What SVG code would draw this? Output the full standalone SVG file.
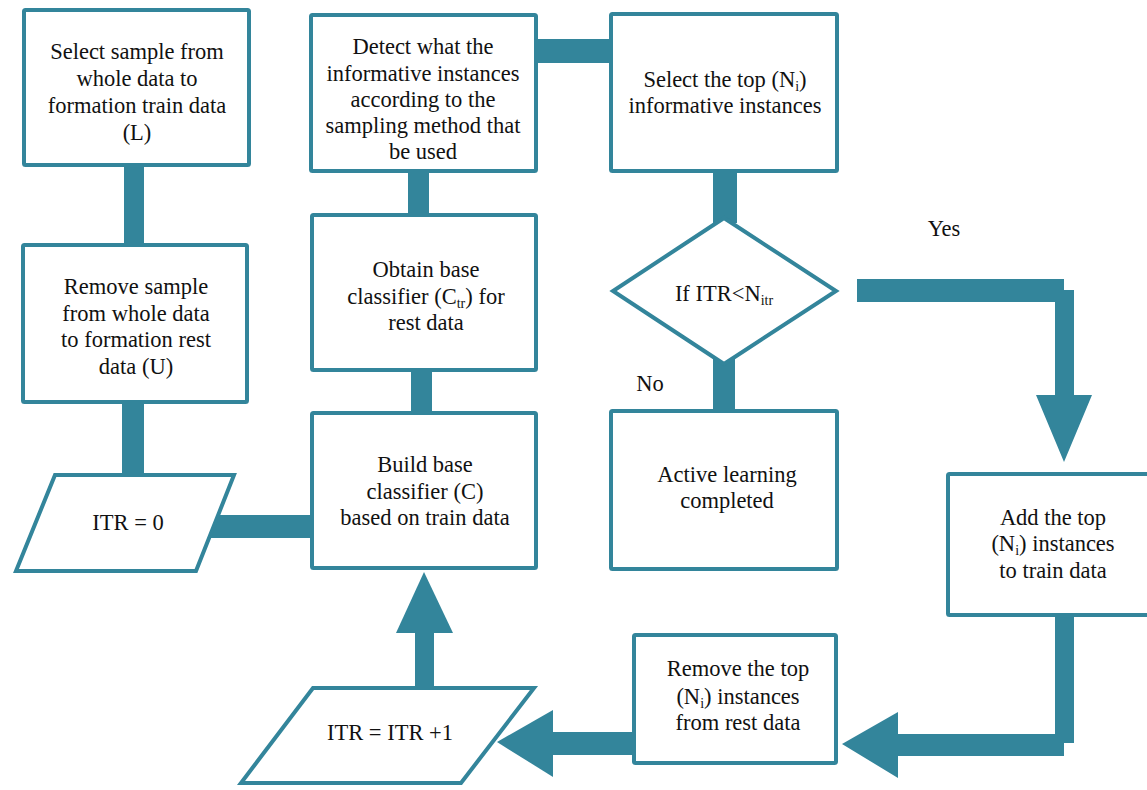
<svg xmlns="http://www.w3.org/2000/svg" width="1147" height="790" viewBox="0 0 1147 790">
  <style>
    .box { fill: #ffffff; stroke: #33859b; stroke-width: 4; }
    .bar { fill: #33859b; stroke: none; }
    text { font-size: 22.5px; fill: #111111; text-anchor: middle; }
    .sub { font-size: 14px; }
  </style>
  <rect width="1147" height="790" fill="#ffffff"/>

  <!-- thick connectors, drawn beneath the nodes -->
  <g id="connectors">
    <rect class="bar" x="124" y="160" width="20" height="90"/>
    <rect class="bar" x="122" y="398" width="22" height="80"/>
    <rect class="bar" x="200" y="515" width="114" height="23"/>
    <rect class="bar" x="408" y="168" width="21" height="50"/>
    <rect class="bar" x="411" y="368" width="21" height="48"/>
    <rect class="bar" x="532" y="39" width="82" height="24"/>
    <rect class="bar" x="713" y="168" width="24" height="55"/>
    <rect class="bar" x="713" y="358" width="22" height="56"/>
    <!-- Yes branch -->
    <polygon class="bar" points="857,279 1064,279 1064,290 1074,290 1074,395 1092,395 1064,462 1036,395 1055,395 1055,302 857,302"/>
    <!-- from Add box down and back to Remove box -->
    <polygon class="bar" points="1055,612 1074,612 1074,743 1064,743 1064,756 898,756 898,778 842,744 898,712 898,734 1055,734"/>
    <!-- Remove box to ITR = ITR +1 -->
    <rect class="bar" x="551" y="732" width="85" height="23"/>
    <polygon class="bar" points="553,710 553,777 497,742"/>
    <!-- ITR = ITR +1 up to Build box -->
    <rect class="bar" x="415" y="631" width="19" height="58"/>
    <polygon class="bar" points="396,633 453,633 424,572"/>
  </g>

  <g font-family="'Liberation Serif', 'Times New Roman', Tinos, 'DejaVu Serif', serif">
  <g id="select-sample">
    <rect class="box" x="24" y="10" width="225" height="155" rx="1.5"/>
    <text x="137" y="59">Select sample from</text>
    <text x="137" y="86">whole data to</text>
    <text x="137" y="113">formation train data</text>
    <text x="137" y="140">(L)</text>
  </g>

  <g id="remove-sample">
    <rect class="box" x="23" y="245" width="224" height="157" rx="1.5"/>
    <text x="136" y="294">Remove sample</text>
    <text x="136" y="320.5">from whole data</text>
    <text x="136" y="347">to formation rest</text>
    <text x="136" y="373.5">data (U)</text>
  </g>

  <g id="itr-zero">
    <polygon class="box" points="55,475 234,475 196,571 16,571"/>
    <text x="128" y="530">ITR = 0</text>
  </g>

  <g id="detect">
    <rect class="box" x="311" y="15" width="225" height="156" rx="1.5"/>
    <text x="423" y="54">Detect what the</text>
    <text x="423" y="80.5">informative instances</text>
    <text x="423" y="107">according to the</text>
    <text x="423" y="133">sampling method that</text>
    <text x="423" y="159">be used</text>
  </g>

  <g id="obtain">
    <rect class="box" x="312" y="215" width="224" height="155" rx="1.5"/>
    <text x="426" y="277">Obtain base</text>
    <text x="426" y="304">classifier (C<tspan class="sub" dy="4">tr</tspan><tspan dy="-4">) for</tspan></text>
    <text x="426" y="330">rest data</text>
  </g>

  <g id="build">
    <rect class="box" x="312" y="413" width="224" height="155" rx="1.5"/>
    <text x="425" y="472">Build base</text>
    <text x="425" y="499">classifier (C)</text>
    <text x="425" y="525">based on train data</text>
  </g>

  <g id="select-top">
    <rect class="box" x="611" y="14" width="226" height="157" rx="1.5"/>
    <text x="725" y="87">Select the top (N<tspan class="sub" dy="4">i</tspan><tspan dy="-4">)</tspan></text>
    <text x="725" y="113">informative instances</text>
  </g>

  <g id="decision">
    <polygon class="box" points="724,218 836,291 724,364 613,291"/>
    <text x="724" y="301">If ITR&lt;N<tspan class="sub" dy="4">itr</tspan></text>
  </g>

  <g id="active-done">
    <rect class="box" x="611" y="411" width="226" height="158" rx="1.5"/>
    <text x="727" y="482">Active learning</text>
    <text x="727" y="508">completed</text>
  </g>

  <g id="add-top">
    <rect class="box" x="948" y="474" width="215" height="141" rx="1.5"/>
    <text x="1053" y="525">Add the top</text>
    <text x="1053" y="551">(N<tspan class="sub" dy="4">i</tspan><tspan dy="-4">) instances</tspan></text>
    <text x="1053" y="578">to train data</text>
  </g>

  <g id="remove-top">
    <rect class="box" x="634" y="635" width="202" height="128" rx="1.5"/>
    <text x="738" y="676">Remove the top</text>
    <text x="738" y="704">(N<tspan class="sub" dy="4">i</tspan><tspan dy="-4">) instances</tspan></text>
    <text x="738" y="730">from rest data</text>
  </g>

  <g id="itr-increment">
    <polygon class="box" points="313,688 534,688 461,783 241,783"/>
    <text x="390" y="740">ITR = ITR +1</text>
  </g>

  <g id="branch-labels">
    <text x="944" y="236">Yes</text>
    <text x="650" y="391">No</text>
  </g>
  </g>
</svg>
